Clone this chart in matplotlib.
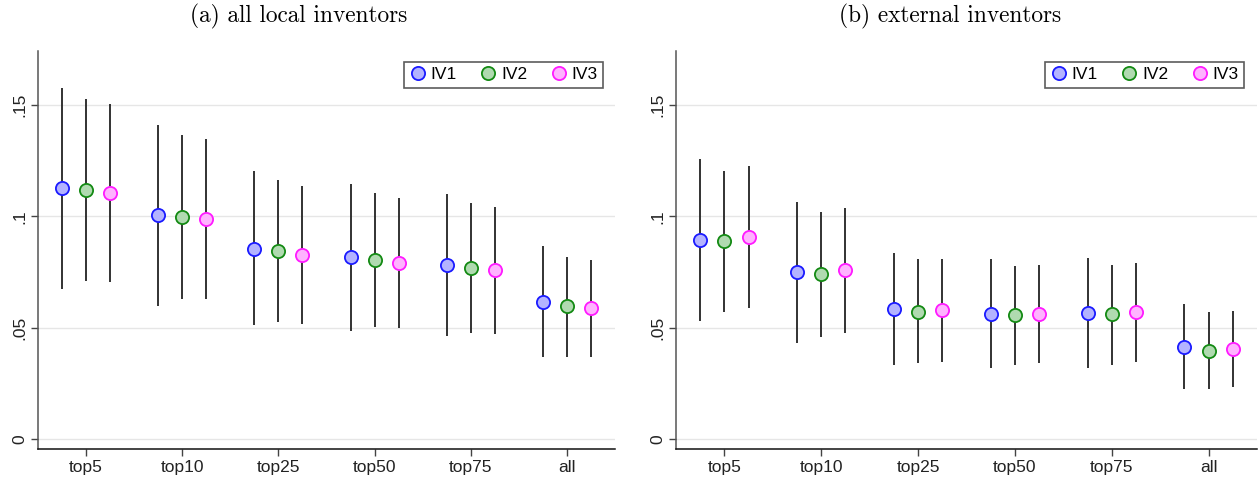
import matplotlib
matplotlib.use("Agg")
import matplotlib.pyplot as plt
import numpy as np

categories = ["top5", "top10", "top25", "top50", "top75", "all"]
series = ["IV1", "IV2", "IV3"]

# Panel (a): all local inventors
a_est = {
    "IV1": [0.1126, 0.1006, 0.0856, 0.0816, 0.0781, 0.0618],
    "IV2": [0.1120, 0.0997, 0.0846, 0.0804, 0.0769, 0.0596],
    "IV3": [0.1106, 0.0988, 0.0826, 0.0790, 0.0759, 0.0587],
}
a_lo = {
    "IV1": [0.0675, 0.0600, 0.0511, 0.0486, 0.0464, 0.0367],
    "IV2": [0.0711, 0.0629, 0.0525, 0.0503, 0.0477, 0.0368],
    "IV3": [0.0706, 0.0629, 0.0518, 0.0500, 0.0474, 0.0368],
}
a_hi = {
    "IV1": [0.1579, 0.1410, 0.1202, 0.1145, 0.1100, 0.0868],
    "IV2": [0.1527, 0.1365, 0.1163, 0.1105, 0.1060, 0.0820],
    "IV3": [0.1506, 0.1347, 0.1136, 0.1082, 0.1042, 0.0805],
}

# Panel (b): external inventors
b_est = {
    "IV1": [0.0895, 0.0750, 0.0585, 0.0564, 0.0566, 0.0416],
    "IV2": [0.0889, 0.0742, 0.0573, 0.0557, 0.0560, 0.0398],
    "IV3": [0.0908, 0.0760, 0.0579, 0.0563, 0.0569, 0.0407],
}
b_lo = {
    "IV1": [0.0531, 0.0432, 0.0332, 0.0320, 0.0320, 0.0226],
    "IV2": [0.0570, 0.0461, 0.0343, 0.0332, 0.0335, 0.0226],
    "IV3": [0.0590, 0.0479, 0.0348, 0.0343, 0.0346, 0.0236],
}
b_hi = {
    "IV1": [0.1257, 0.1066, 0.0837, 0.0810, 0.0814, 0.0606],
    "IV2": [0.1205, 0.1022, 0.0807, 0.0778, 0.0783, 0.0570],
    "IV3": [0.1226, 0.1039, 0.0811, 0.0783, 0.0792, 0.0577],
}

yticks = [0, 0.05, 0.1, 0.15]
ytick_labels = ["0", ".05", ".1", ".15"]
titles = ["(a) all local inventors", "(b) external inventors"]

face = {"IV1": "#b3b3ff", "IV2": "#b0dab0", "IV3": "#ffb3ff"}
edge = {"IV1": "#1a1aff", "IV2": "#138a13", "IV3": "#ff1aff"}
offsets = {"IV1": -0.25, "IV2": 0.0, "IV3": 0.25}

W, H = 1258, 479
fig = plt.figure(figsize=(W / 100, H / 100), dpi=100)

tick_font = ["Liberation Sans", "DejaVu Sans"]
FS = 12.5

def make_panel(rect, est, lo, hi, legend_right):
    ax = fig.add_axes(rect)
    x = np.arange(len(categories))
    for s in series:
        xs = x + offsets[s]
        ax.vlines(xs, lo[s], hi[s], color="#222222", lw=1.3, zorder=2)
        ax.plot(xs, est[s], "o", ms=9.5, mfc=face[s], mec=edge[s], mew=1.3,
                ls="none", zorder=3, label=s)
    ax.set_xlim(-0.5, 5.5)
    ax.set_ylim(-0.0044, 0.1743)
    ax.set_xticks(x)
    ax.set_xticklabels(categories, fontsize=FS, family=tick_font, color="#222222")
    ax.set_yticks(yticks)
    ax.set_yticklabels(ytick_labels, fontsize=FS, family=tick_font, color="#222222",
                       rotation=90, va="center")
    ax.grid(axis="y", color="#e6e6e6", lw=1.0, zorder=0)
    ax.set_axisbelow(True)
    for sp in ["top", "right"]:
        ax.spines[sp].set_visible(False)
    ax.spines["left"].set_color("#555555")
    ax.spines["bottom"].set_color("#111111")
    ax.spines["left"].set_linewidth(1.1)
    ax.spines["bottom"].set_linewidth(1.1)
    ax.tick_params(axis="both", length=5, width=1.0, color="#444444", pad=3)
    leg = ax.legend(loc="upper right", ncol=3, frameon=True, fancybox=False,
                    edgecolor="#333333", prop={"family": tick_font, "size": FS},
                    handletextpad=0.25, columnspacing=1.3, borderpad=0.3,
                    handlelength=1.0, borderaxespad=0.0,
                    bbox_to_anchor=(legend_right, 1 - 11 / 398))
    leg.get_frame().set_linewidth(1.2)
    return ax

ax1 = make_panel([38 / W, 1 - 449 / H, 577 / W, 398 / H], a_est, a_lo, a_hi,
                 (603 - 38) / 577)
ax2 = make_panel([676 / W, 1 - 449 / H, 581 / W, 398 / H], b_est, b_lo, b_hi,
                 (1244 - 676) / 581)

fig.text(299 / W, 1 - 16 / H, titles[0], ha="center", va="center",
         fontsize=16.8, family="cmr10")
fig.text(950 / W, 1 - 16 / H, titles[1], ha="center", va="center",
         fontsize=16.8, family="cmr10")

fig.savefig("out.png", dpi=100, facecolor="white")
